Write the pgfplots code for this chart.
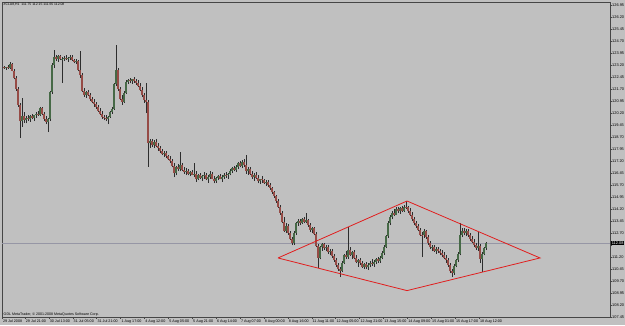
\documentclass[border=0pt]{standalone}
\usepackage{pgfplots}
\usepackage{pgfplotstable}
\pgfplotsset{compat=1.18}
\usepackage{fontspec}
\setmainfont{Liberation Sans}
\definecolor{bg}{RGB}{192,192,192}
\definecolor{framecol}{RGB}{70,70,70}
\definecolor{wick}{RGB}{45,45,45}
\definecolor{bull}{RGB}{70,105,70}
\definecolor{bear}{RGB}{150,75,70}
\definecolor{pline}{RGB}{150,150,165}
\definecolor{diam}{RGB}{225,30,30}
\pgfplotstableread{
i o h l c
0 123.05 123.15 122.95 123.00
1 123.00 123.10 122.90 123.08
2 123.08 123.20 122.98 123.02
3 123.02 123.39 122.95 123.25
4 123.25 123.30 122.80 122.85
5 122.85 122.95 122.30 122.40
6 122.40 122.50 121.60 121.70
7 121.70 121.80 120.60 120.70
8 120.70 120.85 118.64 119.70
9 119.70 121.14 119.33 120.00
10 120.00 120.25 119.60 119.75
11 119.75 120.00 119.55 119.90
12 119.90 120.10 119.70 119.80
13 119.80 120.05 119.65 120.00
14 120.00 120.15 119.80 119.90
15 119.90 120.10 119.70 120.05
16 120.05 120.25 119.90 120.15
17 120.15 120.35 120.00 120.10
18 120.10 120.60 120.00 120.50
19 120.50 120.55 120.05 120.15
20 120.15 120.25 119.70 119.85
21 119.85 120.00 119.50 119.65
22 119.65 119.90 119.01 119.80
23 119.80 121.60 119.70 121.50
24 121.50 123.30 121.40 123.20
25 123.20 124.14 123.00 123.70
26 123.70 123.85 123.45 123.60
27 123.60 123.80 123.40 123.75
28 123.75 123.83 123.50 123.55
29 123.55 123.70 122.08 123.60
30 123.60 123.75 123.45 123.65
31 123.65 123.80 123.50 123.55
32 123.55 123.70 123.40 123.62
33 123.62 123.85 123.50 123.70
34 123.70 123.80 123.45 123.50
35 123.50 123.60 123.30 123.40
36 123.40 123.55 123.25 123.45
37 123.45 123.50 122.80 122.90
38 122.90 124.08 122.40 122.55
39 122.55 122.70 121.50 121.60
40 121.60 121.75 121.20 121.35
41 121.35 121.60 121.15 121.50
42 121.50 121.65 121.25 121.30
43 121.30 121.45 120.95 121.05
44 121.05 121.20 120.80 120.90
45 120.90 121.10 120.60 120.75
46 120.75 120.90 120.45 120.55
47 120.55 120.70 120.25 120.35
48 120.35 120.50 120.05 120.15
49 120.15 120.30 119.85 119.95
50 119.95 120.10 119.75 119.90
51 119.90 120.05 119.70 119.80
52 119.80 120.00 119.50 119.95
53 119.95 120.35 119.90 120.25
54 120.25 120.55 120.15 120.45
55 120.45 122.10 120.40 122.00
56 122.00 124.45 121.90 122.90
57 122.90 123.00 121.60 121.70
58 121.70 121.85 121.00 121.10
59 121.10 121.30 120.70 120.90
60 120.90 121.55 120.85 121.45
61 121.45 122.25 121.40 122.15
62 122.15 122.35 122.00 122.25
63 122.25 122.40 122.05 122.20
64 122.20 122.35 122.00 122.30
65 122.30 122.45 122.10 122.20
66 122.20 122.30 121.95 122.10
67 122.10 122.25 121.80 121.90
68 121.90 122.05 121.55 121.65
69 121.65 121.80 121.20 121.30
70 121.30 121.45 120.85 121.00
71 121.00 122.08 120.20 120.90
72 120.90 121.00 116.83 118.30
73 118.30 118.60 118.00 118.45
74 118.45 118.55 118.10 118.20
75 118.20 118.50 118.00 118.40
76 118.40 118.55 118.05 118.15
77 118.15 118.30 117.85 118.00
78 118.00 118.15 117.70 117.80
79 117.80 117.95 117.55 117.65
80 117.65 117.85 117.45 117.70
81 117.70 117.80 117.40 117.50
82 117.50 117.60 117.25 117.35
83 117.35 117.50 117.10 117.20
84 117.20 117.30 116.80 116.90
85 116.90 117.05 116.20 116.45
86 116.45 116.90 116.30 116.80
87 116.80 117.00 116.60 116.70
88 116.70 117.75 116.55 116.95
89 116.95 117.05 116.60 116.65
90 116.65 116.85 116.40 116.50
91 116.50 116.75 116.35 116.60
92 116.60 116.70 116.30 116.40
93 116.40 116.60 116.25 116.50
94 116.50 116.65 116.30 116.35
95 116.35 117.10 116.20 116.40
96 116.40 116.55 115.90 116.10
97 116.10 116.40 116.00 116.30
98 116.30 116.45 116.05 116.15
99 116.15 116.35 115.95 116.25
100 116.25 116.50 116.10 116.35
101 116.35 116.45 116.00 116.05
102 116.05 116.30 115.85 116.20
103 116.20 116.55 116.10 116.40
104 116.40 116.50 116.05 116.10
105 116.10 116.25 115.80 115.95
106 115.95 116.20 115.85 116.15
107 116.15 116.35 116.00 116.25
108 116.25 116.40 116.05 116.10
109 116.10 116.30 115.90 116.20
110 116.20 116.45 116.10 116.35
111 116.35 116.50 116.15 116.30
112 116.30 116.45 116.10 116.40
113 116.40 116.70 116.30 116.60
114 116.60 116.85 116.45 116.75
115 116.75 116.90 116.55 116.65
116 116.65 116.95 116.50 116.85
117 116.85 117.15 116.70 117.05
118 117.05 117.20 116.80 116.90
119 116.90 117.25 116.75 117.15
120 117.15 117.30 116.85 116.95
121 116.95 117.58 116.40 116.55
122 116.55 116.80 116.35 116.70
123 116.70 116.85 116.30 116.40
124 116.40 116.60 116.10 116.20
125 116.20 116.45 115.95 116.35
126 116.35 116.50 116.05 116.15
127 116.15 116.35 115.80 115.95
128 115.95 116.10 115.75 116.05
129 116.05 116.25 115.85 116.00
130 116.00 116.10 115.75 115.85
131 115.85 116.00 115.65 115.90
132 115.90 116.00 115.60 115.70
133 115.70 115.80 115.40 115.50
134 115.50 115.60 115.15 115.25
135 115.25 115.35 114.90 115.00
136 115.00 115.10 114.60 114.70
137 114.70 114.80 114.25 114.35
138 114.35 114.45 113.85 113.95
139 113.95 114.05 113.30 113.40
140 113.40 113.70 112.75 112.85
141 112.85 113.30 112.70 113.15
142 113.15 113.25 112.60 112.70
143 112.70 112.80 112.25 112.35
144 112.35 112.45 111.95 112.05
145 112.05 112.80 111.98 112.70
146 112.70 113.40 112.60 113.30
147 113.30 113.55 113.15 113.45
148 113.45 113.60 113.20 113.35
149 113.35 113.65 113.25 113.55
150 113.55 113.70 113.30 113.40
151 113.40 113.95 113.30 113.50
152 113.50 113.55 113.10 113.20
153 113.20 113.30 112.75 112.90
154 112.90 113.10 112.70 113.00
155 113.00 113.08 112.55 112.65
156 112.65 112.75 111.80 111.90
157 111.90 112.00 110.51 111.15
158 111.15 111.90 111.05 111.80
159 111.80 112.10 111.60 112.00
160 112.00 112.10 111.65 111.75
161 111.75 111.95 111.55 111.85
162 111.85 111.95 111.40 111.50
163 111.50 111.70 111.30 111.60
164 111.60 111.70 111.15 111.25
165 111.25 111.40 110.90 111.00
166 111.00 111.15 110.60 110.70
167 110.70 110.85 110.35 110.45
168 110.45 110.60 109.95 110.35
169 110.35 110.95 110.25 110.85
170 110.85 111.40 110.75 111.30
171 111.30 111.55 111.10 111.20
172 111.20 113.08 111.10 111.65
173 111.65 111.80 111.25 111.35
174 111.35 111.60 111.10 111.50
175 111.50 111.65 111.05 111.15
176 111.15 111.30 110.80 110.90
177 110.90 111.10 110.60 111.00
178 111.00 111.15 110.70 110.80
179 110.80 110.95 110.50 110.60
180 110.60 110.85 110.45 110.75
181 110.75 110.90 110.45 110.55
182 110.55 110.80 110.40 110.70
183 110.70 110.95 110.55 110.85
184 110.85 111.05 110.65 110.75
185 110.75 111.00 110.60 110.90
186 110.90 111.15 110.75 111.05
187 111.05 111.20 110.85 110.95
188 110.95 111.25 110.85 111.15
189 111.15 111.55 111.05 111.45
190 111.45 111.95 111.35 111.85
191 111.85 112.60 111.75 112.50
192 112.50 113.45 112.40 113.35
193 113.35 113.80 113.20 113.70
194 113.70 114.10 113.55 113.95
195 113.95 114.20 113.75 113.85
196 113.85 114.30 113.80 114.20
197 114.20 114.35 113.95 114.05
198 114.05 114.30 113.90 114.25
199 114.25 114.40 114.00 114.10
200 114.10 114.45 114.00 114.35
201 114.35 114.70 114.20 114.30
202 114.30 114.40 113.95 114.05
203 114.05 114.25 113.75 113.85
204 113.85 114.00 113.45 113.55
205 113.55 113.70 113.20 113.30
206 113.30 113.45 113.00 113.15
207 113.15 113.25 112.80 112.90
208 112.90 113.00 112.50 112.60
209 112.60 112.75 111.20 112.55
210 112.55 112.95 112.40 112.80
211 112.80 112.90 112.35 112.45
212 112.45 112.55 111.95 112.05
213 112.05 112.20 111.70 111.80
214 111.80 111.95 111.55 111.85
215 111.85 111.95 111.50 111.60
216 111.60 111.80 111.40 111.70
217 111.70 111.85 111.45 111.55
218 111.55 111.70 111.30 111.45
219 111.45 111.65 111.20 111.30
220 111.30 111.50 111.05 111.15
221 111.15 111.35 110.85 111.00
222 111.00 111.15 110.60 110.70
223 110.70 110.85 110.20 110.30
224 110.30 110.45 109.95 110.20
225 110.20 110.75 110.10 110.65
226 110.65 111.10 110.55 111.00
227 111.00 111.50 110.90 111.40
228 111.40 113.33 111.30 112.60
229 112.60 113.00 112.45 112.85
230 112.85 113.00 112.55 112.70
231 112.70 112.95 112.50 112.85
232 112.85 112.95 112.45 112.55
233 112.55 112.70 112.20 112.35
234 112.35 112.50 112.05 112.15
235 112.15 112.30 111.85 111.95
236 111.95 112.10 111.65 111.75
237 111.75 112.76 111.60 111.90
238 111.90 112.00 110.85 111.10
239 111.10 111.50 110.26 111.40
240 111.40 111.85 111.30 111.75
241 111.75 112.15 111.65 112.08
}\candles
\begin{document}
\begin{tikzpicture}
\path[use as bounding box, fill=bg] (0,0) rectangle (625pt,325pt);
\begin{axis}[
  at={(2pt,8pt)}, anchor=south west,
  scale only axis, width=608pt, height=315pt,
  xmin=-1, xmax=303, ymin=107.45, ymax=127.1375,
  axis background/.style={fill=bg},
  axis line style={draw=framecol, line width=0.6pt},
  tick align=outside, major tick length=2pt,
  tick style={draw=framecol, line width=0.4pt},
  xtick pos=bottom, ytick pos=right,
  yticklabel pos=right,
  ytick={107.45,108.20,108.95,109.70,110.45,111.20,111.95,112.70,113.45,114.20,114.95,115.70,116.45,117.20,117.95,118.70,119.45,120.20,120.95,121.70,122.45,123.20,123.95,124.70,125.45,126.20,126.95},
  yticklabels={107.45,108.20,108.95,109.70,110.45,111.20,,112.70,113.45,114.20,114.95,115.70,116.45,117.20,117.95,118.70,119.45,120.20,120.95,121.70,122.45,123.20,123.95,124.70,125.45,126.20,126.95},
  yticklabel style={font=\fontsize{3.9}{4}\selectfont, anchor=west, inner sep=0.5pt, xshift=-0.5pt},
  xtick={-1,10.45,22.4,34.35,46.3,58.25,70.2,82.15,94.1,106.05,118,129.95,141.9,153.85,165.8,177.75,189.7,201.65,213.6,225.55,237.5},
  xticklabels={29 Jul 2008,29 Jul 21:00,30 Jul 13:00,31 Jul 05:00,31 Jul 21:00,1 Aug 17:00,4 Aug 12:00,5 Aug 05:00,5 Aug 21:00,6 Aug 14:00,7 Aug 07:00,8 Aug 00:00,8 Aug 16:00,11 Aug 11:00,12 Aug 05:00,12 Aug 21:00,13 Aug 15:00,14 Aug 09:00,15 Aug 01:00,15 Aug 17:00,18 Aug 12:00},
  xticklabel style={font=\fontsize{3.7}{4}\selectfont, anchor=north west, inner sep=0.5pt, xshift=0.3pt},
  clip=true,
]
\addplot[pline, line width=0.5pt] coordinates {(-1,112.08) (303,112.08)};
\addplot[draw=none, mark=none, error bars/.cd, y dir=plus, y explicit, error mark=none,
  error bar style={line width=0.45pt, draw=wick}]
  table[x=i, y=l, y error expr=\thisrow{h}-\thisrow{l}] {\candles};
\addplot[draw=none, mark=none, restrict expr to domain={\thisrow{c}-\thisrow{o}}{0:10},
  error bars/.cd, y dir=plus, y explicit, error mark=none,
  error bar style={line width=1.2pt, draw=bull}]
  table[x=i, y=o, y error expr=\thisrow{c}-\thisrow{o}] {\candles};
\addplot[draw=none, mark=none, restrict expr to domain={\thisrow{o}-\thisrow{c}}{0.0001:10},
  error bars/.cd, y dir=plus, y explicit, error mark=none,
  error bar style={line width=1.2pt, draw=bear}]
  table[x=i, y=c, y error expr=\thisrow{o}-\thisrow{c}] {\candles};
\addplot[diam, line width=0.8pt] coordinates {(137,111.14) (201.5,114.70) (268,111.14) (201.5,109.10) (137,111.14)};
\node[anchor=north west, font=\fontsize{3.4}{4}\selectfont, inner sep=0pt] at ([xshift=1.5pt,yshift=-1pt]rel axis cs:0,1) {\#CLU8,H1\ \ 111.75 112.15 111.65 112.08};
\node[anchor=south west, font=\fontsize{3.6}{4}\selectfont, inner sep=0pt] at ([xshift=1.5pt,yshift=1pt]rel axis cs:0,0) {ODL MetaTrader, © 2001-2008 MetaQuotes Software Corp.};
\end{axis}
\node[anchor=west, fill=black, text=white, font=\fontsize{3.9}{4}\selectfont, inner sep=0.6pt] at (611pt,82pt) {112.08};
\end{tikzpicture}
\end{document}
